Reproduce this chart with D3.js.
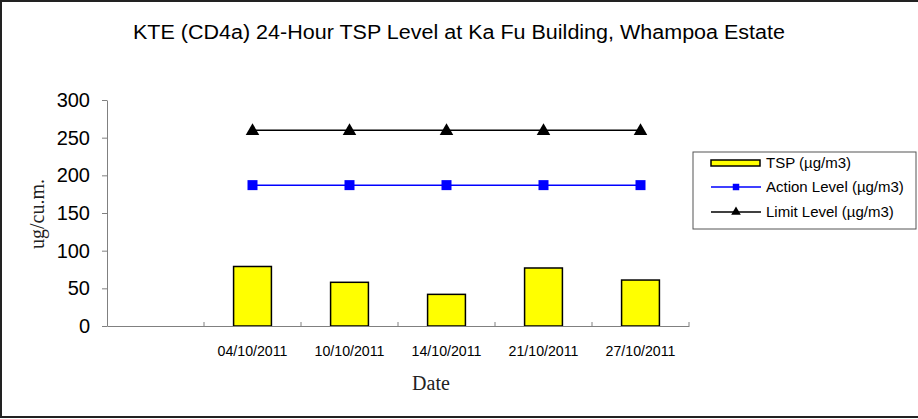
<!DOCTYPE html>
<html>
<head>
<meta charset="utf-8">
<script src="https://cdn.jsdelivr.net/npm/d3@7"></script>
<style>
  body { margin: 0; background: #fff; }
  text { font-family: "Liberation Sans", Arial, sans-serif; }
</style>
</head>
<body>
<div id="chart"></div>
<script>
// chart values
var dates = ["", "04/10/2011", "10/10/2011", "14/10/2011", "21/10/2011", "27/10/2011"];
var tsp = [null, 79, 58, 42, 77, 61];
var actionLevel = [null, 187, 187, 187, 187, 187];
var limitLevel = [null, 260, 260, 260, 260, 260];
var yTicks = [0, 50, 100, 150, 200, 250, 300];

var W = 918, H = 419;
var margin = { top: 100, left: 107, right: 229, bottom: 93 };
var width = W - margin.left - margin.right,
    height = H - margin.top - margin.bottom;

var svg = d3.select("#chart").append("svg")
    .attr("width", W)
    .attr("height", H);

// outer frame
svg.append("rect")
    .attr("x", 1).attr("y", 1)
    .attr("width", 920).attr("height", 416)
    .attr("fill", "none")
    .attr("stroke", "#222")
    .attr("stroke-width", 2);

var g = svg.append("g")
    .attr("transform", "translate(" + margin.left + "," + margin.top + ")");

var x = d3.scaleBand().domain(d3.range(dates.length)).range([0, width]);
var y = d3.scaleLinear().domain([0, 300]).range([height, 0]);

// bars
g.selectAll("rect.bar")
    .data(tsp.map(function(v, i){ return { v: v, i: i }; }).filter(function(d){ return d.v != null; }))
    .enter()
    .append("rect")
    .attr("class", "bar")
    .attr("x", function(d){ return x(d.i) + x.bandwidth() * 0.305; })
    .attr("width", x.bandwidth() * 0.39)
    .attr("y", function(d){ return y(d.v); })
    .attr("height", function(d){ return height - y(d.v); })
    .attr("fill", "#ffff00")
    .attr("stroke", "#000")
    .attr("stroke-width", 1.5);

// axes
var yAxis = g.append("g")
    .call(d3.axisLeft(y).tickValues(yTicks).tickSize(5).tickSizeOuter(0));
yAxis.select(".domain").attr("stroke", "#808080");
yAxis.selectAll(".tick line").attr("stroke", "#808080");
yAxis.selectAll(".tick text")
    .attr("x", -17)
    .attr("font-size", 20)
    .attr("font-family", "Liberation Sans, Arial, sans-serif")
    .attr("fill", "#000");

var xAxis = g.append("g")
    .attr("transform", "translate(0," + height + ")")
    .call(d3.axisBottom(x).tickSize(0).tickSizeOuter(0).tickFormat(function(i){ return dates[i]; }));
xAxis.select(".domain").attr("stroke", "#808080");
xAxis.selectAll(".tick text")
    .attr("y", 20)
    .attr("font-size", 14)
    .attr("font-family", "Liberation Sans, Arial, sans-serif")
    .attr("fill", "#000")
    .attr("textLength", function(i){ return dates[i] ? 70 : null; })
    .attr("lengthAdjust", "spacingAndGlyphs");

// x ticks at band boundaries
g.selectAll("line.xtick")
    .data(d3.range(1, dates.length + 1))
    .enter()
    .append("line")
    .attr("class", "xtick")
    .attr("x1", function(i){ return x.step() * i; })
    .attr("x2", function(i){ return x.step() * i; })
    .attr("y1", height - 4)
    .attr("y2", height)
    .attr("stroke", "#808080");

// lines
var line = d3.line()
    .defined(function(d){ return d != null; })
    .x(function(d, i){ return x(i) + x.bandwidth() / 2; })
    .y(function(d){ return y(d); });

g.append("path").datum(actionLevel)
    .attr("d", line).attr("fill", "none")
    .attr("stroke", "#0000ff").attr("stroke-width", 1.5);

g.append("path").datum(limitLevel)
    .attr("d", line).attr("fill", "none")
    .attr("stroke", "#000").attr("stroke-width", 1.5);

var sq = d3.symbol().type(d3.symbolSquare).size(100);
var tri = d3.symbol().type(d3.symbolTriangle).size(80);

g.selectAll("path.sq")
    .data(actionLevel.map(function(v, i){ return { v: v, i: i }; }).filter(function(d){ return d.v != null; }))
    .enter()
    .append("path")
    .attr("d", sq)
    .attr("transform", function(d){ return "translate(" + (x(d.i) + x.bandwidth() / 2) + "," + y(d.v) + ")"; })
    .attr("fill", "#0000ff");

g.selectAll("path.tri")
    .data(limitLevel.map(function(v, i){ return { v: v, i: i }; }).filter(function(d){ return d.v != null; }))
    .enter()
    .append("path")
    .attr("d", tri)
    .attr("transform", function(d){ return "translate(" + (x(d.i) + x.bandwidth() / 2) + "," + (y(d.v) + 1) + ")"; })
    .attr("fill", "#000");

// title
svg.append("text")
    .attr("x", 459).attr("y", 39)
    .attr("text-anchor", "middle")
    .attr("font-size", 20)
    .text("KTE  (CD4a) 24-Hour TSP Level at Ka Fu Building, Whampoa Estate")
    .attr("textLength", 652)
    .attr("lengthAdjust", "spacingAndGlyphs");

// axis titles
svg.append("text")
    .attr("transform", "translate(44,214) rotate(-90)")
    .attr("text-anchor", "middle")
    .style("font-family", "Liberation Serif, Times New Roman, serif")
    .attr("font-size", 20)
    .attr("fill", "#222")
    .text("ug/cu.m.");

svg.append("text")
    .attr("x", 431).attr("y", 390)
    .attr("text-anchor", "middle")
    .style("font-family", "Liberation Serif, Times New Roman, serif")
    .attr("font-size", 20)
    .attr("fill", "#222")
    .text("Date");

// legend
var legend = svg.append("g");
legend.append("rect")
    .attr("x", 693).attr("y", 152)
    .attr("width", 223).attr("height", 77)
    .attr("fill", "#fff")
    .attr("stroke", "#555");

var legendItems = ["TSP (\u00b5g/m3)", "Action Level (\u00b5g/m3)", "Limit Level (\u00b5g/m3)"];
var ly = [163, 187, 212];

legend.append("rect")
    .attr("x", 711).attr("y", ly[0] - 3)
    .attr("width", 49).attr("height", 6)
    .attr("fill", "#ffff00").attr("stroke", "#000").attr("stroke-width", 1.5);

legend.append("line")
    .attr("x1", 711).attr("x2", 761).attr("y1", ly[1]).attr("y2", ly[1])
    .attr("stroke", "#0000ff").attr("stroke-width", 1.5);
legend.append("path").attr("d", d3.symbol().type(d3.symbolSquare).size(42))
    .attr("transform", "translate(736," + ly[1] + ")").attr("fill", "#0000ff");

legend.append("line")
    .attr("x1", 711).attr("x2", 761).attr("y1", ly[2]).attr("y2", ly[2])
    .attr("stroke", "#000").attr("stroke-width", 1.5);
legend.append("path").attr("d", d3.symbol().type(d3.symbolTriangle).size(40))
    .attr("transform", "translate(736," + ly[2] + ")").attr("fill", "#000");

legend.selectAll("text.leg")
    .data(legendItems)
    .enter()
    .append("text")
    .attr("x", 766)
    .attr("y", function(d, i){ return ly[i] + 5; })
    .attr("font-size", 15)
    .text(function(d){ return d; });
</script>
</body>
</html>
